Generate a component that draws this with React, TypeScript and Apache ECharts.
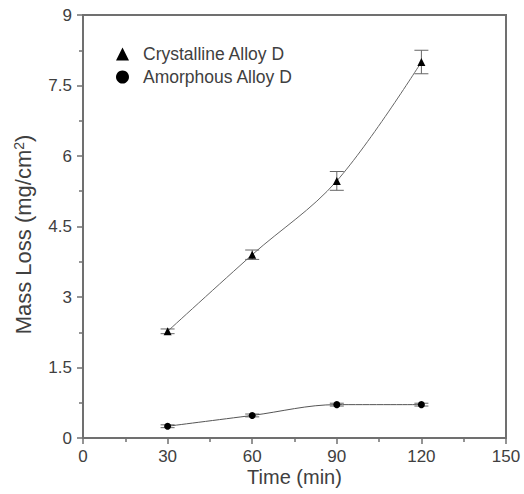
import React, { useEffect, useRef } from "react";
import * as echarts from "echarts";

const times = [30, 60, 90, 120];
const crystalline = [2.27, 3.9, 5.47, 8.0];
const crystallineErr = [0.05, 0.1, 0.2, 0.25];
const amorphous = [0.25, 0.48, 0.71, 0.71];
const amorphousErr = [0.03, 0.03, 0.03, 0.03];
const xTicks = [0, 30, 60, 90, 120, 150];
const yTicks = [0, 1.5, 3, 4.5, 6, 7.5, 9];

const FONT = "Liberation Sans";
const AXIS_COLOR = "#707070";
const TEXT_COLOR = "#404040";

function errData(vals: number[], errs: number[]) {
  return times.map((t, i) => [t, vals[i] - errs[i], vals[i] + errs[i]]);
}

function renderErr(params: any, api: any) {
  const x = api.value(0);
  const lo = api.coord([x, api.value(1)]);
  const hi = api.coord([x, api.value(2)]);
  const w = 7;
  const style = { stroke: "#666", lineWidth: 1 };
  return {
    type: "group",
    children: [
      { type: "line", shape: { x1: lo[0], y1: lo[1], x2: hi[0], y2: hi[1] }, style },
      { type: "line", shape: { x1: lo[0] - w, y1: lo[1], x2: lo[0] + w, y2: lo[1] }, style },
      { type: "line", shape: { x1: hi[0] - w, y1: hi[1], x2: hi[0] + w, y2: hi[1] }, style },
    ],
  };
}

export default function App() {
  const ref = useRef<HTMLDivElement>(null);
  useEffect(() => {
    document.body.style.margin = "0";
    const chart = echarts.init(ref.current!, undefined, { renderer: "svg" });
    const axisCommon = {
      axisLine: { show: true, lineStyle: { color: AXIS_COLOR, width: 2 } },
      axisTick: { show: true, inside: false, length: 6, lineStyle: { color: AXIS_COLOR, width: 1.5 } },
      minorTick: { show: true, splitNumber: 2, length: 4, lineStyle: { color: AXIS_COLOR, width: 1.5 } },
      splitLine: { show: false },
      nameMoveOverlap: false,
    };
    const labelStyle = { color: TEXT_COLOR, fontFamily: FONT, fontSize: 17 };
    const nameStyle = {
      color: TEXT_COLOR,
      fontFamily: FONT,
      fontSize: 20,
    };
    chart.setOption({
      animation: false,
      backgroundColor: "#ffffff",
      grid: {
        left: 83,
        right: 18,
        top: 15,
        bottom: 56,
        show: true,
        borderColor: AXIS_COLOR,
        borderWidth: 2,
        containLabel: false,
        outerBoundsMode: "none",
      },
      legend: {
        orient: "vertical",
        left: 111,
        top: 40,
        itemWidth: 13,
        itemHeight: 13,
        itemGap: 5,
        textStyle: { color: TEXT_COLOR, fontFamily: FONT, fontSize: 17.5, padding: [0, 0, 0, 9] },
        data: [
          { name: "Crystalline Alloy D", icon: "triangle" },
          { name: "Amorphous Alloy D", icon: "circle" },
        ],
      },
      xAxis: {
        type: "value",
        min: xTicks[0],
        max: xTicks[xTicks.length - 1],
        interval: 30,
        name: "Time (min)",
        nameLocation: "middle",
        nameGap: 29,
        nameTextStyle: nameStyle,
        axisLabel: { ...labelStyle, margin: 10 },
        ...axisCommon,
      },
      yAxis: {
        type: "value",
        min: yTicks[0],
        max: yTicks[yTicks.length - 1],
        interval: 1.5,
        name: "Mass Loss (mg/cm{sup|2})",
        nameLocation: "middle",
        nameGap: 49,
        nameTextStyle: {
          ...nameStyle,
          fontSize: 22,
          padding: [0, 16, 0, 0],
          rich: {
            sup: { color: TEXT_COLOR, fontFamily: FONT, fontSize: 14, verticalAlign: "top", lineHeight: 22 },
          },
        },
        axisLabel: { ...labelStyle, margin: 11 },
        ...axisCommon,
      },
      series: [
        {
          name: "Crystalline Alloy D",
          type: "line",
          smooth: 0.35,
          data: times.map((t, i) => [t, crystalline[i]]),
          symbol: "triangle",
          symbolSize: 8,
          itemStyle: { color: "#000" },
          lineStyle: { color: "#666", width: 1 },
          z: 3,
        },
        {
          name: "Amorphous Alloy D",
          type: "line",
          smooth: 0.35,
          data: times.map((t, i) => [t, amorphous[i]]),
          symbol: "circle",
          symbolSize: 7,
          itemStyle: { color: "#000" },
          lineStyle: { color: "#555", width: 1 },
          z: 3,
        },
        {
          type: "custom",
          renderItem: renderErr,
          data: errData(crystalline, crystallineErr),
          z: 2,
          silent: true,
        },
        {
          type: "custom",
          renderItem: renderErr,
          data: errData(amorphous, amorphousErr),
          z: 2,
          silent: true,
        },
      ],
    });
    return () => chart.dispose();
  }, []);
  return <div ref={ref} style={{ width: 524, height: 494 }} />;
}
